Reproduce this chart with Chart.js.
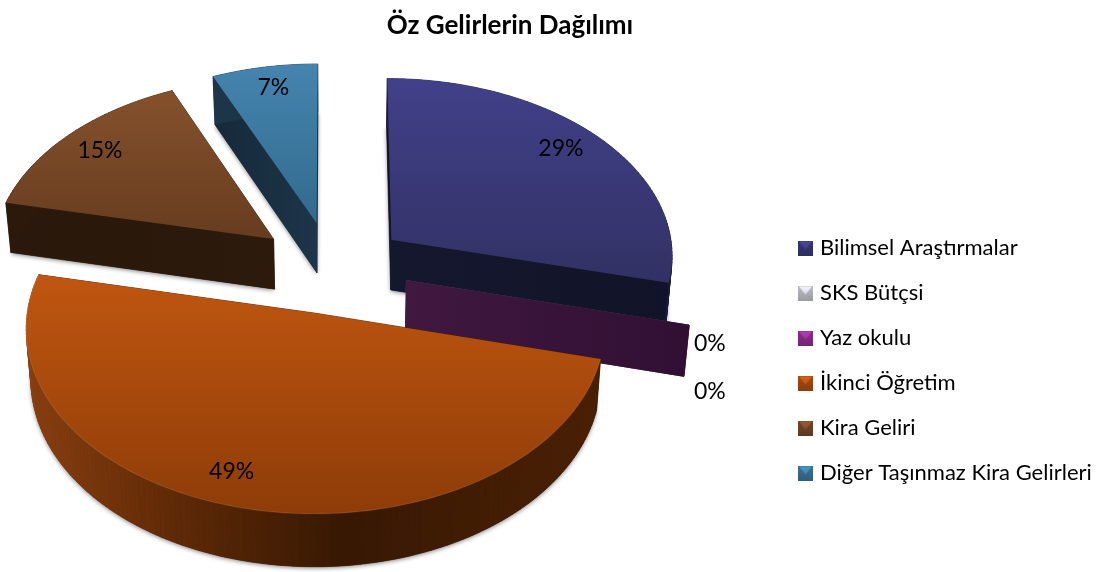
<!DOCTYPE html>
<html><head><meta charset="utf-8">
<style>html,body{margin:0;padding:0;background:#fff}#w{width:1112px;height:572px}</style>
<script src="https://cdn.jsdelivr.net/npm/chart.js@4/dist/chart.umd.min.js"></script>
</head><body><div id="w"><canvas id="c" width="1112" height="572"></canvas></div>
<script>
const categories = ["Bilimsel Araştırmalar","SKS Bütçsi","Yaz okulu","İkinci Öğretim","Kira Geliri","Diğer Taşınmaz Kira Gelirleri"];
const shares = [28.9,0,0,49.5,15,6.6];
const chartTitle = "Öz Gelirlerin Dağılımı";
const baseColors = ["#3f3e85","#d8d8e4","#a032a2","#bf5510","#84502c","#4282aa"];

const explode = [27,27,27,25,27,27];
const labelRadius = [.70,1.12,1.12,.60,.72,.72];
const labelNudge = [[22,-19],[-14,61],[-14,13],[-42,45],[-25,-12],[-5,-21]];
const faces = [
 {top:["#41408a","#323164"],radial:["#15172f","#111428"],wall:[[0,"#1b1c3a"],[1,"#1a1b38"]],rim:0},
 {top:["#c8c8d4","#a0a0aa"],radial:["#55555c","#4a4a50"],wall:[[0,"#55555c"],[1,"#4a4a50"]],rim:0},
 {top:["#8e2c90","#6a1f6c"],radial:["#401840","#310f33"],wall:[[0,"#401840"],[1,"#310f33"]],rim:0},
 {top:["#c05610","#8e3c08"],radial:["#3c1a04","#3c1a04"],wall:[[0,"#8a3f10"],[.25,"#602a06"],[.55,"#381803"],[1,"#4a2004"]],rim:.16},
 {top:["#85512c","#673c1f"],radial:["#2c1a0c","#29180b"],wall:[[0,"#2c1a0c"],[1,"#2c1a0c"]],rim:0},
 {top:["#4484ae","#336a8e"],radial:["#1c3549","#16293a"],wall:[[0,"#1c3549"],[1,"#1c3549"]],rim:0}
];
const CX=332,CY=269,A=283,B=178,K=.077;
const project=(u,v)=>{const w=1-K*v;return{x:CX+A*u/w,y:CY+B*v/w};};
const drop=(p,v)=>({x:p.x-(p.x-340)*.015,y:p.y+50.5+2*v});

function hex(h){return [1,3,5].map(i=>parseInt(h.substr(i,2),16));}
function mix(stops,t){
  for(let i=1;i<stops.length;i++){ if(t<=stops[i][0]){
    const f=(t-stops[i-1][0])/((stops[i][0]-stops[i-1][0])||1),a=hex(stops[i-1][1]),b=hex(stops[i][1]);
    return `rgb(${a.map((c,j)=>Math.round(c+(b[j]-c)*f)).join(",")})`; } }
  return stops[stops.length-1][1];
}
function icon(col){
  const c=document.createElement("canvas");c.width=c.height=15;const x=c.getContext("2d");
  const [r,g,b]=hex(col);
  const d=s=>`rgb(${Math.min(255,Math.round(r*s))},${Math.min(255,Math.round(g*s))},${Math.min(255,Math.round(b*s))})`;
  const g1=x.createLinearGradient(0,0,0,15);g1.addColorStop(0,d(.88));g1.addColorStop(1,d(.72));
  x.fillStyle=g1;x.fillRect(0,0,15,15);
  const g2=x.createLinearGradient(0,2,0,9);g2.addColorStop(0,d(1.12));g2.addColorStop(1,d(1.0));
  x.fillStyle=g2;x.beginPath();x.moveTo(1,1);x.lineTo(14,1);x.lineTo(7.5,9);x.closePath();x.fill();
  return c;
}
const pie3d={
 id:"pie3d",
 afterLayout(chart){
   chart.titleBlock.right=1020;
   const l=chart.legend;l.left=779;l.right=1110;l.top=214;l.bottom=572;
 },
 beforeDatasetsDraw(chart){
   const ctx=chart.ctx,meta=chart.getDatasetMeta(0);
   const items=meta.data.map((el,i)=>{
     const a0=el.startAngle,a1=el.endAngle,m=(a0+a1)/2,e=el.options.offset/100;
     return{i,a0,a1,m,e,ax:e*Math.cos(m),ay:e*Math.sin(m)};
   }).sort((p,q)=>p.ay-q.ay);
   items.forEach(s=>{
     const f=faces[s.i];
     const n=Math.max(1,Math.ceil((s.a1-s.a0)/0.02)),rim=[];
     for(let j=0;j<=n;j++){const t=s.a0+(s.a1-s.a0)*j/n,u=s.ax+Math.cos(t),v=s.ay+Math.sin(t);
       const p=project(u,v);rim.push({p,b:drop(p,v),v});}
     const ap=project(s.ax,s.ay),apx={p:ap,b:drop(ap,s.ay),v:s.ay};
     const poly=(pts)=>{ctx.beginPath();pts.forEach((q,k)=>k?ctx.lineTo(q.x,q.y):ctx.moveTo(q.x,q.y));ctx.closePath();};
     // soft shadow beneath the slab
     ctx.save();ctx.shadowColor="rgba(0,0,0,.45)";ctx.shadowBlur=4;ctx.shadowOffsetY=1.5;ctx.fillStyle="#333";
     poly([apx.b,...rim.map(r=>r.b)]);ctx.fill();ctx.restore();
     // walls, far to near
     const xs=rim.map(r=>r.p.x),x0=Math.min(...xs),x1=Math.max(...xs);
     const quads=[];
     for(let j=0;j<n;j++){
       const a=rim[j],b=rim[j+1];
       if(s.a1-s.a0<1e-6)break;
       const t=(((a.p.x+b.p.x)/2)-x0)/((x1-x0)||1);
       quads.push({y:(a.p.y+b.p.y)/2,pts:[a.p,b.p,b.b,a.b],col:mix(f.wall,t)});
     }
     [rim[0],rim[n]].forEach(r=>{
       const g=ctx.createLinearGradient(ap.x,0,r.p.x,0);g.addColorStop(0,f.radial[0]);g.addColorStop(1,f.radial[1]);
       quads.push({y:(ap.y+r.p.y)/2-1e3*(r.v<s.ay?1:0),pts:[ap,r.p,r.b,apx.b],col:g});
     });
     quads.sort((p,q)=>p.y-q.y).forEach(q=>{
       ctx.fillStyle=q.col;ctx.strokeStyle=q.col;ctx.lineWidth=.6;poly(q.pts);ctx.fill();ctx.stroke();
     });
     // top face
     if(s.a1-s.a0>1e-6){
       const ys=rim.map(r=>r.p.y).concat(ap.y),y0=Math.min(...ys),y1=Math.max(...ys);
       const g=ctx.createLinearGradient(0,y0,0,y1);g.addColorStop(0,f.top[0]);g.addColorStop(1,f.top[1]);
       ctx.fillStyle=g;poly([ap,...rim.map(r=>r.p)]);ctx.fill();
       if(f.rim){
         ctx.strokeStyle=`rgba(255,190,120,${f.rim})`;ctx.lineWidth=1.2;ctx.beginPath();
         rim.forEach((r,k)=>k?ctx.lineTo(r.p.x,r.p.y):ctx.moveTo(r.p.x,r.p.y));ctx.stroke();
       }
     }
   });
   // percentage labels
   ctx.save();ctx.fillStyle="#000";ctx.font='23px Lato';ctx.textAlign="center";ctx.textBaseline="middle";
   meta.data.forEach((el,i)=>{
     const m=(el.startAngle+el.endAngle)/2,e=el.options.offset/100,r=labelRadius[i]+e;
     const p=project(r*Math.cos(m),r*Math.sin(m));
     ctx.fillText(Math.floor(shares[i]+.45)+"%",p.x+labelNudge[i][0],p.y+labelNudge[i][1]);
   });
   ctx.restore();
   return false;
 }
};
new Chart(document.getElementById("c"),{
 type:"pie",
 data:{labels:categories,datasets:[{data:shares,backgroundColor:baseColors,offset:explode,borderWidth:0}]},
 options:{
  responsive:false,animation:false,
  plugins:{
   title:{display:true,text:chartTitle,color:"#000",font:{family:"Lato",size:26,weight:"bold"},padding:{top:10,bottom:10}},
   legend:{position:"right",align:"start",labels:{
     color:"#000",font:{family:"Lato",size:22},padding:23,usePointStyle:true,pointStyleWidth:7,
     generateLabels:ch=>categories.map((t,i)=>({text:t,pointStyle:icon(baseColors[i]),fillStyle:baseColors[i],strokeStyle:baseColors[i],lineWidth:0,index:i,hidden:false}))
   }},
   tooltip:{enabled:false}
  }
 },
 plugins:[pie3d]
});
</script></body></html>
